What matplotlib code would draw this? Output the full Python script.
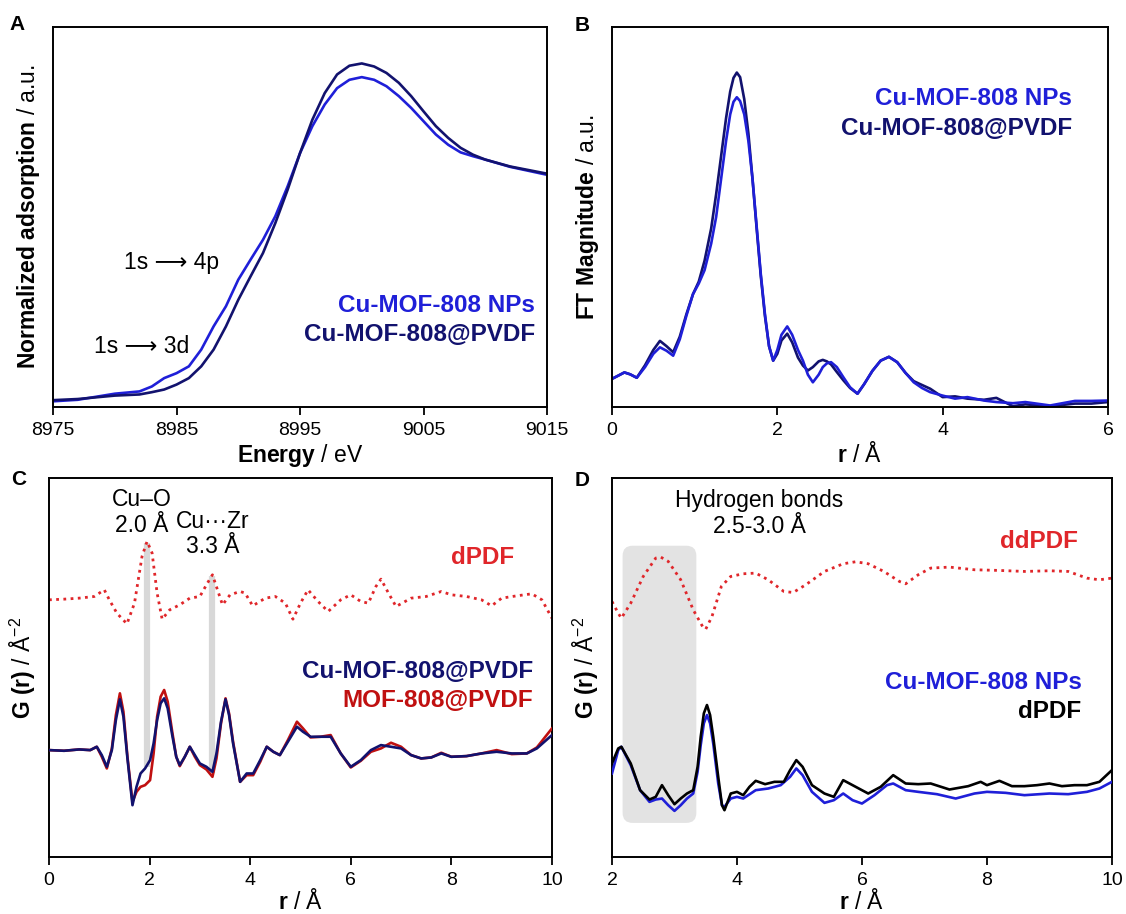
import matplotlib
matplotlib.use("Agg")
import matplotlib.pyplot as plt
from matplotlib.patches import FancyBboxPatch


OUT_PNG_PATH = "out.png"

NAVY  = "#12126e"
BLUE  = "#1f1fd8"
RED   = "#e0262a"
DRED  = "#c01010"
GREY  = "#d8d8d8"

# ---- A : XANES ----
A_ENERGY = [8975, 8977, 8980, 8982, 8983, 8984, 8985, 8986, 8987, 8988, 8989, 8990,
            8991, 8992, 8993, 8994, 8995, 8996, 8997, 8998, 8999, 9000, 9001, 9002,
            9003, 9004, 9005, 9006, 9007, 9008, 9009, 9010, 9012, 9015]
A_NPS    = [0.015, 0.019, 0.035, 0.041, 0.054, 0.076, 0.089, 0.107, 0.151, 0.212, 0.265, 0.335,
            0.388, 0.440, 0.502, 0.581, 0.668, 0.739, 0.796, 0.839, 0.861, 0.868, 0.861, 0.844,
            0.818, 0.787, 0.752, 0.717, 0.690, 0.670, 0.660, 0.651, 0.632, 0.611]
A_PVDF   = [0.018, 0.021, 0.030, 0.033, 0.039, 0.046, 0.059, 0.076, 0.107, 0.151, 0.212, 0.282,
            0.344, 0.405, 0.484, 0.572, 0.668, 0.756, 0.826, 0.875, 0.898, 0.904, 0.896, 0.879,
            0.853, 0.818, 0.778, 0.739, 0.708, 0.682, 0.664, 0.651, 0.633, 0.614]
A_TICKS  = [8975, 8985, 8995, 9005, 9015]

# ---- B : EXAFS FT ----
B_R    = [0, 0.08, 0.15, 0.22, 0.3, 0.4, 0.5, 0.58, 0.66, 0.74,
          0.82, 0.9, 0.98, 1.05, 1.12, 1.2, 1.26, 1.32, 1.38, 1.43,
          1.47, 1.51, 1.55, 1.6, 1.65, 1.7, 1.75, 1.8, 1.85, 1.9,
          1.95, 2.0, 2.05, 2.12, 2.18, 2.25, 2.31, 2.37, 2.43, 2.5,
          2.55, 2.6, 2.65, 2.72, 2.8, 2.88, 2.97, 3.05, 3.15, 3.25,
          3.35, 3.45, 3.55, 3.65, 3.75, 3.85, 4.0, 4.15, 4.3, 4.5,
          4.65, 4.85, 5.0, 5.3, 5.6, 5.8, 6.0]
B_PVDF = [0.074, 0.083, 0.091, 0.086, 0.077, 0.110, 0.150, 0.174, 0.160, 0.144,
          0.185, 0.244, 0.297, 0.330, 0.385, 0.470, 0.560, 0.660, 0.760, 0.830,
          0.866, 0.880, 0.868, 0.810, 0.720, 0.600, 0.470, 0.345, 0.240, 0.160,
          0.122, 0.140, 0.175, 0.193, 0.170, 0.130, 0.109, 0.096, 0.105, 0.120,
          0.124, 0.120, 0.112, 0.092, 0.070, 0.050, 0.035, 0.060, 0.095, 0.122,
          0.132, 0.118, 0.090, 0.068, 0.058, 0.048, 0.026, 0.028, 0.022, 0.019,
          0.024, 0.002, 0.007, 0.002, 0.009, 0.009, 0.013]
B_NPS  = [0.074, 0.083, 0.091, 0.086, 0.077, 0.105, 0.140, 0.157, 0.148, 0.135,
          0.178, 0.240, 0.297, 0.325, 0.360, 0.430, 0.500, 0.600, 0.700, 0.770,
          0.803, 0.815, 0.805, 0.770, 0.700, 0.600, 0.475, 0.350, 0.245, 0.160,
          0.122, 0.150, 0.190, 0.212, 0.190, 0.150, 0.122, 0.085, 0.065, 0.085,
          0.105, 0.115, 0.118, 0.105, 0.078, 0.052, 0.035, 0.060, 0.095, 0.122,
          0.132, 0.118, 0.090, 0.065, 0.050, 0.039, 0.030, 0.022, 0.026, 0.017,
          0.013, 0.010, 0.013, 0.004, 0.016, 0.016, 0.017]
B_TICKS = [0, 2, 4, 6]

# ---- C : PDF ----
C_R        = [0, 0.3, 0.6, 0.82, 0.95, 1.05, 1.15, 1.25, 1.33, 1.41,
              1.48, 1.56, 1.66, 1.74, 1.82, 1.91, 2.01, 2.08, 2.15, 2.22,
              2.29, 2.36, 2.45, 2.53, 2.6, 2.7, 2.8, 2.9, 3.0, 3.13,
              3.25, 3.33, 3.42, 3.51, 3.58, 3.66, 3.8, 3.93, 4.06, 4.2,
              4.33, 4.46, 4.59, 4.75, 4.93, 5.05, 5.2, 5.4, 5.6, 5.8,
              6.0, 6.2, 6.4, 6.6, 6.8, 7.0, 7.2, 7.4, 7.6, 7.8,
              8.0, 8.3, 8.6, 8.9, 9.2, 9.5, 9.7, 10.0]
C_CU_PVDF  = [3.20, 3.18, 3.22, 3.20, 3.30, 3.05, 2.70, 3.20, 4.10, 4.72,
              4.20, 2.95, 1.55, 2.10, 2.50, 2.65, 2.90, 3.40, 4.10, 4.60,
              4.75, 4.45, 3.65, 3.00, 2.75, 3.00, 3.30, 3.05, 2.80, 2.70,
              2.55, 3.10, 4.05, 4.72, 4.25, 3.40, 2.25, 2.50, 2.50, 2.90,
              3.30, 3.15, 3.05, 3.45, 3.90, 3.75, 3.60, 3.60, 3.60, 3.10,
              2.70, 2.90, 3.20, 3.35, 3.30, 3.25, 3.05, 2.95, 2.98, 3.10,
              3.00, 3.02, 3.10, 3.15, 3.10, 3.10, 3.25, 3.65]
C_MOF_PVDF = [3.20, 3.18, 3.22, 3.20, 3.30, 3.00, 2.65, 3.25, 4.25, 4.90,
              4.35, 3.00, 1.65, 1.95, 2.10, 2.15, 2.30, 3.10, 4.20, 4.80,
              5.00, 4.65, 3.75, 3.00, 2.72, 3.00, 3.30, 3.00, 2.75, 2.62,
              2.40, 2.95, 4.00, 4.75, 4.30, 3.45, 2.25, 2.45, 2.45, 2.85,
              3.30, 3.15, 3.05, 3.50, 4.05, 3.85, 3.58, 3.60, 3.65, 3.10,
              2.68, 2.88, 3.15, 3.25, 3.42, 3.30, 3.05, 2.95, 2.98, 3.12,
              3.00, 3.02, 3.10, 3.20, 3.08, 3.10, 3.28, 3.85]
C_R_DPDF   = [0, 0.3, 0.6, 0.9, 1.0, 1.1, 1.2, 1.35, 1.55, 1.7,
              1.85, 1.95, 2.05, 2.15, 2.25, 2.4, 2.6, 2.8, 3.0, 3.15,
              3.25, 3.35, 3.45, 3.6, 3.8, 3.9, 4.05, 4.3, 4.5, 4.7,
              4.85, 5.0, 5.15, 5.35, 5.55, 5.8, 6.0, 6.2, 6.35, 6.5,
              6.6, 6.75, 6.9, 7.2, 7.5, 7.8, 8.0, 8.3, 8.6, 8.8,
              9.0, 9.3, 9.6, 9.8, 10.0]
C_DPDF     = [7.70, 7.72, 7.75, 7.80, 7.90, 8.00, 7.70, 7.30, 6.98, 7.60,
              9.00, 9.45, 9.10, 7.90, 7.12, 7.40, 7.55, 7.75, 7.80, 8.20,
              8.45, 8.00, 7.55, 7.85, 7.95, 7.90, 7.52, 7.75, 7.80, 7.60,
              7.12, 7.60, 8.00, 7.65, 7.35, 7.70, 7.85, 7.65, 7.60, 8.10,
              8.32, 7.90, 7.50, 7.75, 7.80, 7.95, 7.85, 7.80, 7.70, 7.52,
              7.75, 7.82, 7.88, 7.70, 7.15]
C_BOND_R      = [1.95, 3.25]
C_BOND_TOP    = [9.40, 8.40]
C_BOND_BOTTOM = [2.70, 2.50]
C_TICKS = [0, 2, 4, 6, 8, 10]

# ---- D : difference PDF ----
D_R_DPDF = [2.0, 2.1, 2.15, 2.3, 2.45, 2.6, 2.7, 2.8, 2.9, 3.0,
            3.1, 3.2, 3.3, 3.37, 3.42, 3.47, 3.52, 3.57, 3.62, 3.7,
            3.76, 3.8, 3.9, 4.0, 4.1, 4.2, 4.3, 4.45, 4.6, 4.75,
            4.85, 4.95, 5.05, 5.2, 5.4, 5.55, 5.7, 5.9, 6.1, 6.3,
            6.5, 6.7, 6.9, 7.1, 7.4, 7.7, 7.9, 8.0, 8.2, 8.4,
            8.6, 8.8, 9.0, 9.2, 9.4, 9.6, 9.8, 10.0]
D_DPDF   = [2.80, 3.25, 3.30, 2.80, 2.00, 1.72, 1.80, 2.15, 1.85, 1.58,
            1.75, 1.90, 2.00, 2.70, 3.60, 4.30, 4.55, 4.25, 3.60, 2.40,
            1.55, 1.40, 1.90, 1.95, 1.85, 2.10, 2.28, 2.18, 2.25, 2.25,
            2.60, 2.90, 2.70, 2.15, 1.90, 1.80, 2.30, 2.10, 1.90, 2.10,
            2.45, 2.20, 2.18, 2.20, 2.02, 2.12, 2.25, 2.15, 2.28, 2.12,
            2.12, 2.15, 2.20, 2.12, 2.15, 2.15, 2.25, 2.60]
D_R_NPS  = [2.0, 2.1, 2.15, 2.3, 2.45, 2.6, 2.7, 2.8, 2.9, 3.0,
            3.1, 3.2, 3.3, 3.37, 3.42, 3.47, 3.52, 3.57, 3.62, 3.7,
            3.76, 3.8, 3.9, 4.0, 4.1, 4.3, 4.5, 4.7, 4.85, 4.95,
            5.05, 5.2, 5.4, 5.55, 5.7, 5.85, 6.0, 6.2, 6.4, 6.5,
            6.7, 6.9, 7.2, 7.5, 7.8, 8.0, 8.3, 8.6, 9.0, 9.3,
            9.6, 9.8, 10.0]
D_NPS    = [2.50, 3.20, 3.30, 2.75, 2.00, 1.65, 1.72, 1.75, 1.55, 1.38,
            1.55, 1.75, 1.90, 2.55, 3.35, 4.00, 4.25, 4.00, 3.40, 2.20,
            1.55, 1.50, 1.75, 1.80, 1.75, 2.00, 2.05, 2.15, 2.40, 2.65,
            2.45, 1.95, 1.62, 1.70, 1.90, 1.70, 1.60, 1.85, 2.15, 2.20,
            2.00, 1.95, 1.88, 1.75, 1.90, 1.95, 1.92, 1.85, 1.90, 1.88,
            1.95, 2.05, 2.25]
D_R_DDPDF = [2.0, 2.1, 2.15, 2.3, 2.5, 2.7, 2.78, 2.9, 3.1, 3.3,
             3.45, 3.5, 3.6, 3.75, 3.9, 4.1, 4.3, 4.5, 4.75, 4.9,
             5.1, 5.4, 5.7, 5.9, 6.1, 6.35, 6.6, 6.7, 6.9, 7.1,
             7.4, 7.8, 8.2, 8.6, 9.0, 9.3, 9.6, 9.8, 10.0]
D_DDPDF   = [7.65, 7.30, 7.15, 7.60, 8.40, 8.95, 8.98, 8.85, 8.30, 7.40,
             6.90, 6.82, 7.20, 8.10, 8.40, 8.48, 8.50, 8.30, 7.95, 7.92,
             8.15, 8.55, 8.78, 8.84, 8.78, 8.55, 8.25, 8.18, 8.45, 8.65,
             8.68, 8.60, 8.58, 8.55, 8.57, 8.55, 8.35, 8.30, 8.35]
D_HBOND_R = [2.17, 3.35]
D_HBOND_G = [1.02, 9.32]
D_TICKS = [2, 4, 6, 8, 10]

G_MAX = 11.35


plt.rcParams["font.family"]        = ["Liberation Sans", "DejaVu Sans"]
plt.rcParams["mathtext.fontset"]   = "custom"
plt.rcParams["mathtext.rm"]        = "Liberation Sans"
plt.rcParams["mathtext.bf"]        = "Liberation Sans:bold"
plt.rcParams["mathtext.it"]        = "Liberation Sans:italic"

TICK_SIZE   = 14
LABEL_SIZE  = 16.5
KEY_SIZE    = 17.5
NOTE_SIZE   = 16.5
LW          = 1.9
DOTS        = (0, (1, 1.6))
R_LABEL     = r"$\mathbf{r}$ / Å"
G_LABEL     = r"$\mathbf{G\ (r)}$ / Å$^{-2}$"


def style_axes(ax, xticks):
  for spine in ax.spines.values():
    spine.set_linewidth(1.4)
  ax.set_yticks([])
  ax.set_xticks(xticks)
  ax.tick_params(axis="x", direction="out", length=6, width=1.3,
                 labelsize=TICK_SIZE, pad=5)


def key(ax, x, y, text, color):
  ax.text(x, y, text, transform=ax.transAxes, ha="right", va="center",
          fontsize=KEY_SIZE, fontweight="bold", color=color)


def plot_xanes(ax):
  ax.plot(A_ENERGY, A_NPS,  color=BLUE, lw=LW)
  ax.plot(A_ENERGY, A_PVDF, color=NAVY, lw=LW)
  ax.set_xlim(8975, 9015)
  ax.set_ylim(0, 1)
  style_axes(ax, A_TICKS)
  ax.set_xlabel(r"$\mathbf{Energy}$ / eV", fontsize=LABEL_SIZE, labelpad=2)
  ax.set_ylabel(r"$\mathbf{Normalized\ adsorption}$ / a.u.", fontsize=LABEL_SIZE, labelpad=8)

  ax.text(8984.6, 0.38, "1s \u27f6 4p", ha="center", va="center", fontsize=NOTE_SIZE)
  ax.text(8982.2, 0.158, "1s \u27f6 3d", ha="center", va="center", fontsize=NOTE_SIZE)

  key(ax, 0.976, 0.266, "Cu-MOF-808 NPs", BLUE)
  key(ax, 0.976, 0.190, "Cu-MOF-808@PVDF", NAVY)


def plot_exafs(ax):
  ax.plot(B_R, B_PVDF, color=NAVY, lw=LW)
  ax.plot(B_R, B_NPS,  color=BLUE, lw=LW)
  ax.set_xlim(0, 6)
  ax.set_ylim(0, 1)
  style_axes(ax, B_TICKS)
  ax.set_xlabel(R_LABEL, fontsize=LABEL_SIZE, labelpad=2)
  ax.set_ylabel(r"$\mathbf{FT\ Magnitude}$ / a.u.", fontsize=LABEL_SIZE, labelpad=8)

  key(ax, 0.927, 0.812, "Cu-MOF-808 NPs", BLUE)
  key(ax, 0.927, 0.733, "Cu-MOF-808@PVDF", NAVY)


def plot_pdf(ax):
  ax.vlines(C_BOND_R, C_BOND_BOTTOM, C_BOND_TOP, colors=GREY, lw=4.5, zorder=1)
  ax.plot(C_R_DPDF, C_DPDF, color=RED, lw=2.0, linestyle=DOTS, zorder=2)
  ax.plot(C_R, C_MOF_PVDF, color=DRED, lw=LW, zorder=3)
  ax.plot(C_R, C_CU_PVDF,  color=NAVY, lw=LW, zorder=4)
  ax.set_xlim(0, 10)
  ax.set_ylim(0, G_MAX)
  style_axes(ax, C_TICKS)
  ax.set_xlabel(R_LABEL, fontsize=LABEL_SIZE, labelpad=0)
  ax.set_ylabel(G_LABEL, fontsize=LABEL_SIZE, labelpad=8)

  ax.text(1.84, 10.31, "Cu\u2013O\n2.0 Å", ha="center", va="center",
          fontsize=NOTE_SIZE, linespacing=1.15)
  ax.text(3.26, 9.67, "Cu\u00b7\u00b7\u00b7Zr\n3.3 Å", ha="center", va="center",
          fontsize=NOTE_SIZE, linespacing=1.15)

  key(ax, 0.926, 0.789, "dPDF", RED)
  key(ax, 0.962, 0.488, "Cu-MOF-808@PVDF", NAVY)
  key(ax, 0.962, 0.414, "MOF-808@PVDF", DRED)


def plot_ddpdf(ax):
  # zone grisée des liaisons hydrogène, coins arrondis
  x_px = 8 / 500
  y_px = G_MAX / 379
  box = FancyBboxPatch((D_HBOND_R[0], D_HBOND_G[0]),
                       D_HBOND_R[1] - D_HBOND_R[0], D_HBOND_G[1] - D_HBOND_G[0],
                       boxstyle="round,pad=0,rounding_size=0.16",
                       mutation_aspect=y_px / x_px,
                       facecolor="#e3e3e3", edgecolor="none", zorder=0)
  ax.add_patch(box)

  ax.plot(D_R_DDPDF, D_DDPDF, color=RED, lw=2.0, linestyle=DOTS, zorder=2)
  ax.plot(D_R_NPS, D_NPS,   color=BLUE, lw=LW, zorder=3)
  ax.plot(D_R_DPDF, D_DPDF, color="black", lw=LW, zorder=4)
  ax.set_xlim(2, 10)
  ax.set_ylim(0, G_MAX)
  style_axes(ax, D_TICKS)
  ax.set_xlabel(R_LABEL, fontsize=LABEL_SIZE, labelpad=0)
  ax.set_ylabel(G_LABEL, fontsize=LABEL_SIZE, labelpad=8)

  ax.text(0.294, 0.907, "Hydrogen bonds\n2.5-3.0 Å", transform=ax.transAxes,
          ha="center", va="center", fontsize=NOTE_SIZE, linespacing=1.15)

  key(ax, 0.932, 0.832, "ddPDF", RED)
  key(ax, 0.939, 0.459, "Cu-MOF-808 NPs", BLUE)
  key(ax, 0.939, 0.383, "dPDF", "black")


def main():
  fig = plt.figure(figsize=(11.26, 9.14), dpi=100)

  ax_a = fig.add_axes([0.0471, 0.5547, 0.4387, 0.4158])
  ax_b = fig.add_axes([0.5435, 0.5547, 0.4405, 0.4158])
  ax_c = fig.add_axes([0.0435, 0.0624, 0.4467, 0.4147])
  ax_d = fig.add_axes([0.5435, 0.0624, 0.4440, 0.4147])

  plot_xanes(ax_a)
  plot_exafs(ax_b)
  plot_pdf(ax_c)
  plot_ddpdf(ax_d)

  for letter, x, y in [("A", 0.015, 0.973), ("B", 0.517, 0.972),
                       ("C", 0.017, 0.475), ("D", 0.517, 0.474)]:
    fig.text(x, y, letter, fontsize=15, fontweight="bold", ha="center", va="center")

  fig.savefig(OUT_PNG_PATH, dpi=100)
  plt.close(fig)


if __name__ == "__main__":
  main()
